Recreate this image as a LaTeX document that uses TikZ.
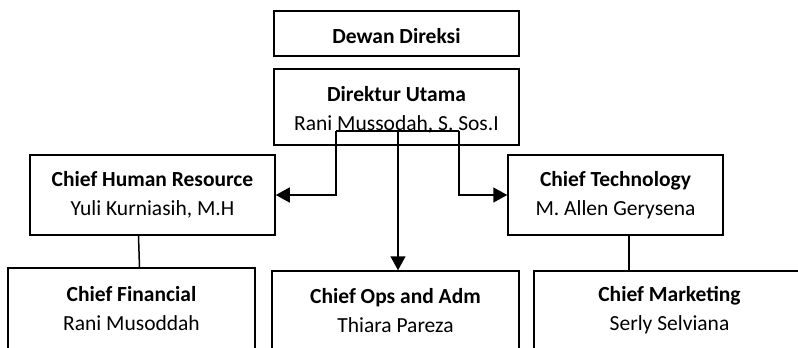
\documentclass[tikz,border=0pt]{standalone}
\usepackage{fontspec}
\setmainfont{Carlito}
\usetikzlibrary{arrows.meta}

\begin{document}
\begin{tikzpicture}[x=1pt, y=-1pt,
        box/.style={draw, line width=1.5pt, align=center, inner sep=0pt,
                    font=\fontsize{21.5}{29}\selectfont},
        link/.style={line width=1.5pt},
        arr/.style={line width=1.5pt, -{Triangle[length=14pt, width=15pt]}}]
        \useasboundingbox (0,0) rectangle (798,348);
        \clip (0,0) rectangle (798,348);
        % Nodes
        \node[box, minimum width=245pt, minimum height=45pt] (dewan) at (396.5,33.5) {\rule{0pt}{20pt}\textbf{Dewan Direksi}};
        \node[box, minimum width=245pt, minimum height=76pt] (dirut) at (396.5,107) {\rule{0pt}{20pt}\textbf{Direktur Utama}\\Rani Mussodah, S. Sos.I};
        \node[box, minimum width=245pt, minimum height=80pt] (chr) at (152.5,195) {\textbf{Chief Human Resource}\\Yuli Kurniasih, M.H};
        \node[box, minimum width=215pt, minimum height=80pt] (tech) at (615.5,195) {\textbf{Chief Technology}\\M. Allen Gerysena};
        \node[box, minimum width=247pt, minimum height=82pt] (fin) at (131.5,309) {\textbf{Chief Financial}\\Rani Musoddah};
        \node[box, minimum width=247pt, minimum height=79pt] (ops) at (395.5,310.5) {\textbf{Chief Ops and Adm}\\Thiara Pareza};
        \node[box, minimum width=271pt, minimum height=79pt] (mkt) at (669.5,310.5) {\textbf{Chief Marketing}\\Serly Selviana};
        \coordinate (hubL) at (336,131);
        \coordinate (hub) at (398,131);
        \coordinate (hubR) at (459,131);

        % Edges
        \draw[link] (hubL) -- (hubR);
        \draw[arr] (hubL) |- (chr.east);
        \draw[arr] (hubR) |- (tech.west);
        \draw[arr] (hub) -- (hub |- ops.north);
        \draw[link] ([xshift=-14pt]chr.south) -- ([xshift=8pt]fin.north);
        \draw[link] ([xshift=13.5pt]tech.south) -- ([xshift=13.5pt]tech.south |- mkt.north);
    \end{tikzpicture}
\end{document}
